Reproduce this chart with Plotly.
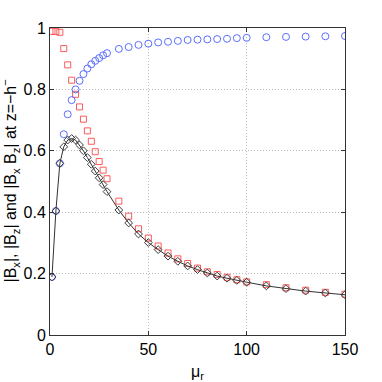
import plotly.graph_objects as go

# mu_r sample points
mu_r = [1, 3, 5, 7, 9, 11, 13, 15, 17, 19, 21, 23, 25, 27, 29,
        35, 40, 45, 50, 55, 60, 65, 70, 75, 80, 85, 90, 95, 100,
        110, 120, 130, 140, 150]

# |B_x| (red squares)
bx = [0.989, 0.989, 0.986, 0.933, 0.880, 0.830, 0.784, 0.743, 0.703, 0.665,
      0.631, 0.597, 0.565, 0.537, 0.509,
      0.436, 0.387, 0.346, 0.316, 0.290, 0.267, 0.248, 0.233, 0.218, 0.206,
      0.197, 0.188, 0.180, 0.173,
      0.164, 0.154, 0.146, 0.139, 0.133]

# |B_z| (blue circles)
bz = [0.189, 0.404, 0.559, 0.654, 0.719, 0.765, 0.800, 0.828, 0.850, 0.868,
      0.882, 0.893, 0.902, 0.911, 0.918,
      0.932, 0.938, 0.945, 0.949, 0.953, 0.955, 0.958, 0.961, 0.962, 0.963,
      0.964, 0.965, 0.967, 0.968,
      0.970, 0.971, 0.972, 0.973, 0.974]

# |B_x B_z| (black diamonds + line)
bxbz = [0.189, 0.404, 0.559, 0.613, 0.635, 0.640, 0.635, 0.619, 0.600, 0.578,
        0.556, 0.534, 0.512, 0.490, 0.467,
        0.407, 0.365, 0.329, 0.301, 0.278, 0.257, 0.240, 0.225, 0.213, 0.202,
        0.192, 0.185, 0.178, 0.172,
        0.160, 0.151, 0.143, 0.137, 0.131]

fig = go.Figure()
fig.add_trace(go.Scatter(x=mu_r, y=bx, mode="markers",
                         marker=dict(symbol="square-open", size=6,
                                     color="rgb(255,90,90)", line=dict(width=1))))
fig.add_trace(go.Scatter(x=mu_r, y=bz, mode="markers",
                         marker=dict(symbol="circle-open", size=7,
                                     color="rgb(90,110,255)", line=dict(width=1))))
fig.add_trace(go.Scatter(x=mu_r, y=bxbz, mode="lines+markers",
                         line=dict(color="rgb(50,50,50)", width=1),
                         marker=dict(symbol="diamond-open", size=6,
                                     color="rgb(60,60,60)", line=dict(width=1))))

axis_style = dict(showline=True, linecolor="#333", linewidth=1, mirror="ticks",
                  ticks="inside", ticklen=4, tickcolor="#333",
                  showgrid=True, gridcolor="#bbbbbb", griddash="1px,2px", gridwidth=1,
                  zeroline=False, automargin=False,
                  tickfont=dict(size=16, color="black"))

fig.update_layout(
    width=382, height=382,
    margin=dict(l=50, r=37, t=28, b=47),
    plot_bgcolor="white", paper_bgcolor="white",
    showlegend=False,
    font=dict(family="Liberation Sans, Arial, sans-serif", color="black"),
    xaxis=dict(range=[0, 150], tickvals=[0, 50, 100, 150], **axis_style),
    yaxis=dict(range=[0, 1], tickvals=[0, 0.2, 0.4, 0.6, 0.8, 1],
               ticktext=["0", "0.2", "0.4", "0.6", "0.8", "1"], **axis_style),
    annotations=[
        dict(text="μ<sub>r</sub>", xref="paper", yref="paper", x=0.5, y=0,
             xanchor="center", yanchor="middle", yshift=-37, showarrow=False,
             font=dict(size=16)),
        dict(text="|B<sub>x</sub>|, |B<sub>z</sub>| and |B<sub>x</sub> B<sub>z</sub>| at z=−h<sup>−</sup>",
             xref="paper", yref="paper", x=0, y=0.5, textangle=-90,
             xanchor="center", yanchor="middle", xshift=-40, showarrow=False,
             font=dict(size=16)),
    ],
)

# drop the default page margin so the figure sits at the window's top-left
fig.write_html("out.html", config={"displayModeBar": False},
               post_script="document.body.style.margin='0';")
